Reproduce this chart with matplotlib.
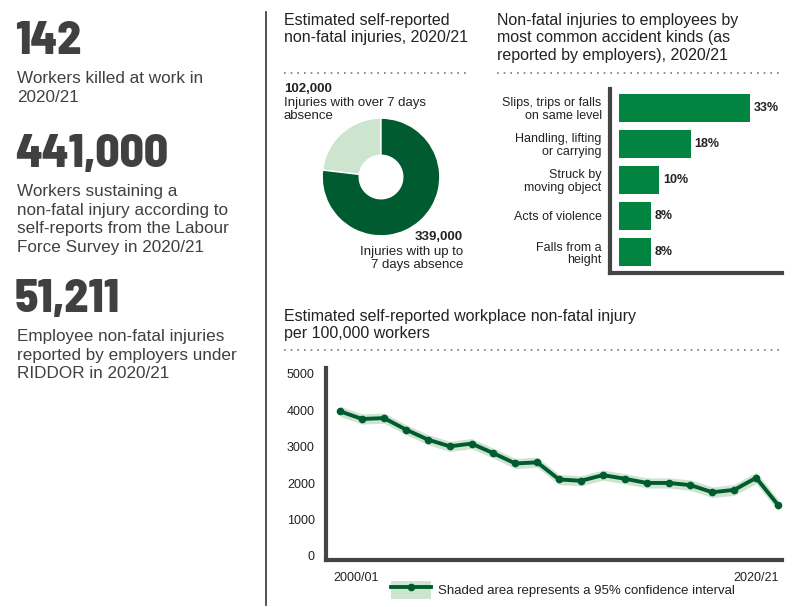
import numpy as np
import matplotlib
matplotlib.use("Agg")
import matplotlib.pyplot as plt

plt.rcParams['font.family'] = ['Liberation Sans', 'DejaVu Sans']

# headline figures
headline_values = ['142', '441,000', '51,211']
headline_texts = [
    'Workers killed at work in\n2020/21',
    'Workers sustaining a\nnon-fatal injury according to\nself-reports from the Labour\nForce Survey in 2020/21',
    'Employee non-fatal injuries\nreported by employers under\nRIDDOR in 2020/21',
]

# donut: self-reported injuries 2020/21
donut_values = [102000, 339000]
donut_labels = ['Injuries with over 7 days\nabsence', 'Injuries with up to\n7 days absence']

# bar chart: accident kinds
kinds = ['Slips, trips or falls\non same level', 'Handling, lifting\nor carrying',
         'Struck by\nmoving object', 'Acts of violence', 'Falls from a\nheight']
kind_pct = [33, 18, 10, 8, 8]

# line chart: rate per 100,000 workers
years = ['2000/01', '2001/02', '2002/03', '2003/04', '2004/05', '2005/06', '2006/07',
         '2007/08', '2008/09', '2009/10', '2010/11', '2011/12', '2012/13', '2013/14',
         '2014/15', '2015/16', '2016/17', '2017/18', '2018/19', '2019/20', '2020/21']
rate = [3970, 3760, 3785, 3470, 3195, 3010, 3085, 2820, 2540, 2570, 2100,
        2065, 2220, 2120, 2005, 2005, 1945, 1750, 1815, 2145, 1400]
ci_half = [140, 140, 140, 140, 140, 140, 140, 140, 140, 140, 140,
           140, 140, 140, 140, 140, 145, 145, 150, 160, 160]

W, H = 800, 607
fig = plt.figure(figsize=(W / 100, H / 100), dpi=100)

DARK = '#404040'
TXT = '#222222'
GREEN_DARK = '#005c30'
GREEN_BAR = '#00843f'
GREEN_LIGHT = '#cde4cf'
BIG_FONT = ['Barlow Semi Condensed', 'Barlow Condensed', 'DejaVu Sans']


def px_axes(x0, y0, x1, y1):
    return fig.add_axes([x0 / W, 1 - y1 / H, (x1 - x0) / W, (y1 - y0) / H])


def ftext(x, y, s, **kw):
    fig.text(x / W, 1 - y / H, s, **kw)


def dotted(x0, x1, y):
    fig.add_artist(plt.Line2D([x0 / W, x1 / W], [1 - y / H, 1 - y / H],
                              color='#777777', lw=1.2, ls=(0, (1, 3))))


# left column
big_y = [21, 134, 279]
for v, t, y in zip(headline_values, headline_texts, big_y):
    ftext(15, y, v, family=BIG_FONT, weight=800, fontsize=34, color=DARK, va='top')
    ftext(17, y + 50, t, fontsize=12.3, color=DARK, va='top', linespacing=1.3)

# divider
fig.add_artist(plt.Line2D([266 / W, 266 / W], [1 - 12 / H, 1 - 605 / H], color='#333333', lw=1.2))

# donut panel
ftext(284, 13, 'Estimated self-reported\nnon-fatal injuries, 2020/21', fontsize=11.5,
      color=TXT, va='top', linespacing=1.2)
dotted(284, 470, 73)
ax_d = px_axes(321, 117, 441, 237)
ax_d.pie(donut_values, colors=[GREEN_LIGHT, GREEN_DARK], startangle=90, counterclock=True,
         wedgeprops=dict(width=0.63, edgecolor='white', linewidth=1))
ax_d.set_xlim(-1.02, 1.02)
ax_d.set_ylim(-1.02, 1.02)
ax_d.set_aspect('equal')
ftext(284, 83, f'{donut_values[0]:,}', fontsize=9.5, weight='bold', color=TXT, va='top')
ftext(284, 97, donut_labels[0], fontsize=9.5, color=TXT, va='top', linespacing=1.1)
ftext(463, 231, f'{donut_values[1]:,}', fontsize=9.5, weight='bold', color=TXT, va='top', ha='right')
ftext(463, 246, donut_labels[1], fontsize=9.5, color=TXT, va='top', ha='right',
      linespacing=1.1, multialignment='right')

# bar panel
ftext(497, 13, 'Non-fatal injuries to employees by\nmost common accident kinds (as\nreported by employers), 2020/21',
      fontsize=11.5, color=TXT, va='top', linespacing=1.2)
dotted(497, 780, 73)
ax_b = px_axes(610, 89, 782, 273)
ypos = np.arange(len(kinds))
ax_b.barh(ypos, kind_pct, left=2.3, height=0.78, color=GREEN_BAR)
ax_b.set_ylim(len(kinds) - 0.5 + 0.08, -0.5 - 0.02)
ax_b.set_xlim(0, 43.3)
for i, p in enumerate(kind_pct):
    ax_b.text(2.3 + p + 1, i, f'{p}%', va='center', ha='left', fontsize=9,
              weight='bold', color=TXT)
ax_b.set_yticks(ypos)
ax_b.set_yticklabels(kinds, fontsize=9, color=TXT, linespacing=1.1)
ax_b.tick_params(axis='y', length=0, pad=6)
ax_b.set_xticks([])
for s in ['top', 'right']:
    ax_b.spines[s].set_visible(False)
for s in ['left', 'bottom']:
    ax_b.spines[s].set_color('#444444')
    ax_b.spines[s].set_linewidth(3)

# line panel
ftext(284, 309, 'Estimated self-reported workplace non-fatal injury\nper 100,000 workers',
      fontsize=11.5, color=TXT, va='top', linespacing=1.2)
dotted(284, 780, 350)
ax_l = px_axes(326, 368, 782, 560)
x = np.arange(len(years))
r = np.array(rate)
c = np.array(ci_half)
ax_l.fill_between(x, r - c, r + c, color=GREEN_LIGHT, lw=0)
ax_l.plot(x, r, color=GREEN_DARK, lw=2.8, marker='o', ms=4.5)
ax_l.set_xlim(-0.65, len(years) - 1 + 0.18)
ax_l.set_ylim(-110, 5160)
ax_l.set_yticks([0, 1000, 2000, 3000, 4000, 5000])
ax_l.tick_params(axis='y', length=0, pad=8, labelsize=9, labelcolor=TXT)
ax_l.set_xticks([])
ax_l.text(-0.3, -0.06, years[0], transform=ax_l.get_xaxis_transform(), ha='left', va='top',
          fontsize=9, color=TXT)
ax_l.text(len(years) - 1 + 0.05, -0.06, years[-1], transform=ax_l.get_xaxis_transform(),
          ha='right', va='top', fontsize=9, color=TXT)
for s in ['top', 'right']:
    ax_l.spines[s].set_visible(False)
for s in ['left', 'bottom']:
    ax_l.spines[s].set_color('#444444')
    ax_l.spines[s].set_linewidth(3)

# legend
ax_l.legend(handles=[(plt.Rectangle((0, 0), 1, 1, color=GREEN_LIGHT, lw=0),
                      plt.Line2D([], [], color=GREEN_DARK, lw=2.8, marker='o', ms=4.5))],
            labels=['Shaded area represents a 95% confidence interval'],
            loc='center', bbox_to_anchor=(0.52, -0.155), frameon=False, fontsize=9.5,
            handlelength=3.0, handleheight=1.7, handletextpad=0.6,
            labelcolor=TXT)

fig.savefig('out.png', dpi=100)
